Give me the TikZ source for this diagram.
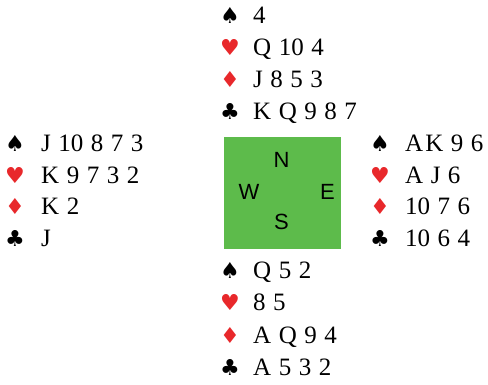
\documentclass[tikz,border=0pt]{standalone}
\usepackage{fontspec}
\setmainfont{Liberation Serif}
\newfontfamily\suitfont{DejaVu Sans}
\newfontfamily\dirfont{Liberation Sans}
\definecolor{boardgreen}{HTML}{5DBB4B}
\definecolor{suitred}{HTML}{E8282B}
\newcommand\cardfont{\fontsize{25}{29}\selectfont\spaceskip 7.5pt\relax}
\tikzset{
  cards/.style={anchor=base west, inner sep=0pt, font=\cardfont},
  suit/.style={anchor=base, inner sep=0pt, font=\suitfont\fontsize{22}{26}\selectfont},
  redsuit/.style={suit, text=suitred},
  blacksuit/.style={suit, text=black},
  dir/.style={anchor=center, inner sep=0pt, font=\dirfont\fontsize{22}{26}\selectfont},
}
\begin{document}
\begin{tikzpicture}[x=1pt,y=-1pt]
\useasboundingbox (0,0) rectangle (488,385);
% board
\fill[boardgreen] (224,137) rectangle (341,249);
\node[dir] (dN) at (281.5,160) {N};
\node[dir] (dW) at (249,191.5) {W};
\node[dir] (dE) at (327.5,191.5) {E};
\node[dir] (dS) at (281.5,222) {S};
% North
\node[blacksuit] (nS) at (230,23.5) {♠};  \node[cards] (nSc) at (253,23.5) {4};
\node[redsuit]   (nH) at (230,55.5) {♥};  \node[cards] (nHc) at (253,55.5) {Q 10 4};
\node[redsuit]   (nD) at (230,87.5) {♦};  \node[cards] (nDc) at (253,87.5) {J 8 5 3};
\node[blacksuit] (nC) at (230,119.5) {♣}; \node[cards] (nCc) at (253,119.5) {K Q 9 8 7};
% West
\node[blacksuit] (wS) at (15,152) {♠};  \node[cards] (wSc) at (41,152) {J 10 8 7 3};
\node[redsuit]   (wH) at (15,183.5) {♥};  \node[cards] (wHc) at (41,183.5) {K 9 7 3 2};
\node[redsuit]   (wD) at (15,215) {♦};  \node[cards] (wDc) at (41,215) {K 2};
\node[blacksuit] (wC) at (15,247) {♣};  \node[cards] (wCc) at (41,247) {J};
% East
\node[blacksuit] (eS) at (380,152) {♠}; \node[cards] (eSc) at (405,152) {A\hspace{2pt}K 9 6};
\node[redsuit]   (eH) at (380,183.5) {♥}; \node[cards] (eHc) at (405,183.5) {A J 6};
\node[redsuit]   (eD) at (380,215) {♦}; \node[cards] (eDc) at (405,215) {10 7 6};
\node[blacksuit] (eC) at (380,247) {♣}; \node[cards] (eCc) at (405,247) {10 6 4};
% South
\node[blacksuit] (sS) at (230,279) {♠}; \node[cards] (sSc) at (253,279) {Q 5 2};
\node[redsuit]   (sH) at (230,311) {♥}; \node[cards] (sHc) at (253,311) {8 5};
\node[redsuit]   (sD) at (230,343) {♦}; \node[cards] (sDc) at (253,343) {A Q 9 4};
\node[blacksuit] (sC) at (230,375) {♣}; \node[cards] (sCc) at (253,375) {A 5 3 2};
\end{tikzpicture}
\end{document}
